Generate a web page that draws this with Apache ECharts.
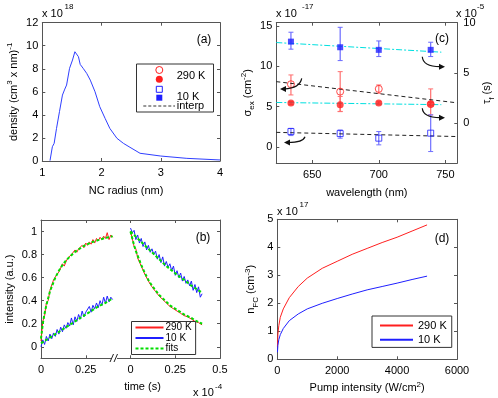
<!DOCTYPE html>
<html>
<head>
<meta charset="utf-8">
<script src="https://cdn.jsdelivr.net/npm/echarts@6/dist/echarts.min.js"></script>
<style>
html, body { margin: 0; padding: 0; background: #fff; }
#chart { width: 498px; height: 398px; }
</style>
</head>
<body>
<div id="chart"></div>
<script>
// ---------- (a) NC radius distribution ----------
const radius = [1.13, 1.17, 1.2, 1.24, 1.29, 1.34, 1.38, 1.41, 1.46, 1.51, 1.55, 1.58, 1.61, 1.64, 1.69, 1.75, 1.81, 1.89, 1.97, 2.06, 2.14, 2.26, 2.37, 2.48, 2.65, 3.0, 3.44, 4.0];
const density = [0.03, 1.24, 1.53, 2.83, 4.28, 5.72, 6.24, 6.59, 8.04, 8.76, 9.48, 9.42, 9.05, 8.38, 8.04, 7.6, 7.02, 6.01, 4.71, 3.7, 2.83, 1.97, 1.53, 1.19, 0.67, 0.43, 0.23, 0.09];

// ---------- (b) time traces (axis broken: right half relabelled from 0) ----------
const riseT = [0, 0.01, 0.02, 0.03, 0.04, 0.05, 0.06, 0.07, 0.08, 0.09, 0.10, 0.11, 0.12, 0.13, 0.14, 0.15, 0.16, 0.17, 0.18, 0.19, 0.20, 0.21, 0.22, 0.23, 0.24, 0.25, 0.26, 0.27, 0.28, 0.29, 0.30, 0.31, 0.32, 0.33, 0.34, 0.35, 0.36, 0.37, 0.38, 0.39, 0.40];
const decayT = [0.50, 0.51, 0.52, 0.53, 0.54, 0.55, 0.56, 0.57, 0.58, 0.59, 0.60, 0.61, 0.62, 0.63, 0.64, 0.65, 0.66, 0.67, 0.68, 0.69, 0.70, 0.71, 0.72, 0.73, 0.74, 0.75, 0.76, 0.77, 0.78, 0.79, 0.80, 0.81, 0.82, 0.83, 0.84, 0.85, 0.86, 0.87, 0.88, 0.89, 0.90];
const redRise = [0.05, 0.22, 0.27, 0.38, 0.40, 0.49, 0.50, 0.58, 0.57, 0.63, 0.65, 0.66, 0.72, 0.70, 0.74, 0.77, 0.76, 0.80, 0.79, 0.84, 0.82, 0.85, 0.84, 0.88, 0.86, 0.90, 0.88, 0.91, 0.89, 0.93, 0.90, 0.94, 0.92, 0.95, 0.93, 0.96, 0.94, 0.99, 0.93, 0.97, 0.95];
const blueRise = [0.0, 0.06, 0.02, 0.09, 0.05, 0.11, 0.07, 0.12, 0.09, 0.15, 0.11, 0.17, 0.13, 0.19, 0.16, 0.21, 0.18, 0.25, 0.19, 0.26, 0.22, 0.28, 0.24, 0.31, 0.26, 0.30, 0.29, 0.35, 0.30, 0.36, 0.33, 0.38, 0.34, 0.40, 0.36, 0.43, 0.38, 0.44, 0.39, 0.43, 0.41];
const redDecay = [1.0, 0.94, 0.87, 0.85, 0.77, 0.76, 0.70, 0.69, 0.63, 0.62, 0.57, 0.57, 0.52, 0.52, 0.48, 0.48, 0.44, 0.45, 0.41, 0.41, 0.38, 0.39, 0.35, 0.36, 0.33, 0.34, 0.31, 0.32, 0.29, 0.30, 0.27, 0.28, 0.26, 0.26, 0.24, 0.24, 0.22, 0.23, 0.21, 0.21, 0.19];
const blueDecay = [1.03, 0.99, 1.01, 0.93, 0.97, 0.90, 0.94, 0.87, 0.91, 0.84, 0.88, 0.82, 0.85, 0.80, 0.83, 0.76, 0.80, 0.73, 0.78, 0.70, 0.74, 0.69, 0.72, 0.66, 0.70, 0.62, 0.66, 0.60, 0.64, 0.57, 0.61, 0.55, 0.58, 0.53, 0.57, 0.49, 0.54, 0.47, 0.52, 0.43, 0.46];
const fitRiseT = [0, 0.01, 0.02, 0.03, 0.04, 0.05, 0.06, 0.07, 0.08, 0.10, 0.12, 0.14, 0.16, 0.18, 0.20, 0.22, 0.24, 0.26, 0.28, 0.30, 0.32, 0.34, 0.36, 0.38, 0.40];
const redRiseFit = [0.07, 0.2, 0.29, 0.36, 0.42, 0.48, 0.52, 0.56, 0.6, 0.66, 0.71, 0.75, 0.78, 0.81, 0.835, 0.855, 0.875, 0.89, 0.905, 0.915, 0.925, 0.935, 0.945, 0.95, 0.96];
const blueRiseFit = [0.03, 0.04, 0.05, 0.06, 0.07, 0.08, 0.09, 0.10, 0.11, 0.13, 0.15, 0.17, 0.19, 0.21, 0.23, 0.25, 0.27, 0.29, 0.31, 0.33, 0.35, 0.365, 0.38, 0.40, 0.42];
const fitDecayT = [0.50, 0.51, 0.52, 0.53, 0.54, 0.56, 0.58, 0.60, 0.62, 0.64, 0.66, 0.68, 0.70, 0.72, 0.74, 0.76, 0.78, 0.80, 0.82, 0.84, 0.86, 0.88, 0.90];
const redDecayFit = [1.0, 0.94, 0.88, 0.83, 0.79, 0.71, 0.64, 0.58, 0.53, 0.49, 0.45, 0.42, 0.39, 0.36, 0.34, 0.32, 0.30, 0.28, 0.265, 0.25, 0.23, 0.215, 0.20];
const blueDecayFit = [1.0, 0.985, 0.97, 0.955, 0.94, 0.91, 0.88, 0.85, 0.82, 0.79, 0.76, 0.73, 0.70, 0.675, 0.65, 0.625, 0.60, 0.58, 0.555, 0.53, 0.51, 0.49, 0.47];
const timeTicks = [0, 0.25, 0.5, 0.75, 1];
const timeTickLabels = ['0', '0.25', '0', '0.25', '0.5'];

// ---------- (c) cross section (left) and lifetime (right) vs wavelength ----------
const wavelength = [634, 671, 700, 739];
const sigma290 = [7.77, 6.85, 7.19, 5.3];
const sigma290Lo = [6.44, 4.37, 6.65, 3.97];
const sigma290Hi = [8.92, 9.33, 7.68, 7.19];
const sigma10 = [1.9, 1.65, 1.08, 1.7];
const sigma10Lo = [1.4, 1.08, 0.25, -0.58];
const sigma10Hi = [2.3, 2.1, 1.9, 3.97];
const tau290 = [1.99, 1.82, 1.99, 1.89];
const tau290Lo = [1.85, 1.15, 1.87, 1.75];
const tau290Hi = [2.13, 2.64, 2.1, 2.03];
const tau10 = [8.11, 7.55, 7.29, 7.29];
const tau10Lo = [7.36, 6.22, 6.62, 6.62];
const tau10Hi = [9.05, 9.54, 8.18, 8.05];
const sigmaFitWl = [623, 759];
const sigma290Fit = [8.09, 5.46];
const sigma10Fit = [1.8, 1.28];
const tauFitWl = [623, 747];
const tau10Fit = [8.02, 7.06];
const tau290Fit = [2.04, 1.82];

// ---------- (d) free carrier density vs pump ----------
const pump = [5, 20, 50, 100, 200, 400, 700, 1000, 1500, 2000, 2500, 3000, 3500, 4000, 4500, 5000];
const nfc290 = [0.45, 0.9, 1.2, 1.5, 1.8, 2.2, 2.6, 2.9, 3.25, 3.5, 3.75, 3.96, 4.17, 4.36, 4.58, 4.8];
const nfc10 = [0.25, 0.5, 0.7, 0.88, 1.1, 1.38, 1.62, 1.8, 2.0, 2.17, 2.33, 2.48, 2.6, 2.72, 2.85, 2.97];

const FONT = 'Liberation Sans, Arial, sans-serif';
const AXIS_COLOR = '#555';
const RED = '#ff1f1f';
const BLUE = '#1f1fff';
const GREEN = '#00dd00';
const CYAN = '#00e0e0';

// 上下标样式
const rich = {
    sup: { fontSize: 8, lineHeight: 9, verticalAlign: 'top', fontFamily: FONT, color: '#000' },
    sub: { fontSize: 8, lineHeight: 9, verticalAlign: 'bottom', fontFamily: FONT, color: '#000' },
};

function pairs(xs, ys) {
    return xs.map((x, i) => [x, ys[i]]);
}

// MATLAB-like box axis: ticks inside, no grid lines
function axis(gridIndex, position, min, max, o) {
    o = o || {};
    const a = {
        type: 'value',
        gridIndex: gridIndex,
        position: position,
        min: min,
        max: max,
        axisLine: { show: true, onZero: false, lineStyle: { color: AXIS_COLOR, width: 1 } },
        axisTick: { show: true, inside: true, length: 3, lineStyle: { color: AXIS_COLOR } },
        axisLabel: {
            show: o.labels !== false,
            color: '#000',
            fontSize: 11,
            fontFamily: FONT,
            margin: o.margin || 5,
            formatter: o.formatter || ((v) => String(v)),
        },
        splitLine: { show: false },
    };
    if (o.interval) a.interval = o.interval;
    if (o.ticks) {
        a.axisTick.customValues = o.ticks;
        a.axisLabel.customValues = o.ticks;
    }
    if (o.name) {
        a.name = o.name;
        a.nameLocation = 'middle';
        a.nameGap = o.nameGap;
        a.nameTextStyle = {
            fontSize: 11, fontFamily: FONT, color: '#000', lineHeight: 16, rich: rich,
            padding: o.namePad || 0,
        };
    }
    return a;
}

function lineSeries(name, xi, yi, data, color, width, type) {
    return {
        name: name,
        type: 'line',
        xAxisIndex: xi,
        yAxisIndex: yi,
        data: data,
        symbol: 'none',
        lineStyle: { color: color, width: width, type: type || 'solid' },
        itemStyle: { color: color },
    };
}

function scatterSeries(xi, yi, data, symbol, size, color, hollow) {
    return {
        type: 'scatter',
        xAxisIndex: xi,
        yAxisIndex: yi,
        data: data,
        symbol: symbol,
        symbolSize: size,
        itemStyle: hollow
            ? { color: 'rgba(0,0,0,0)', borderColor: color, borderWidth: 1 }
            : { color: color },
        z: 4,
    };
}

// 误差线(自定义系列)
function errorSeries(xi, yi, xs, lo, hi, color) {
    return {
        type: 'custom',
        xAxisIndex: xi,
        yAxisIndex: yi,
        data: xs.map((x, i) => [x, lo[i], hi[i]]),
        encode: { x: 0, y: [1, 2] },
        silent: true,
        z: 3,
        renderItem: function (params, api) {
            const a = api.coord([api.value(0), api.value(1)]);
            const b = api.coord([api.value(0), api.value(2)]);
            const w = 2.5;
            return {
                type: 'group',
                children: [
                    { type: 'line', shape: { x1: a[0], y1: a[1], x2: b[0], y2: b[1] }, style: { stroke: color, lineWidth: 1.2 } },
                    { type: 'line', shape: { x1: a[0] - w, y1: a[1], x2: a[0] + w, y2: a[1] }, style: { stroke: color, lineWidth: 1 } },
                    { type: 'line', shape: { x1: b[0] - w, y1: b[1], x2: b[0] + w, y2: b[1] }, style: { stroke: color, lineWidth: 1 } },
                ],
            };
        },
    };
}

function txt(text, x, y, size, align) {
    return {
        type: 'text',
        z: 100,
        style: { text: text, x: x, y: y, fill: '#000', font: size + 'px ' + FONT, align: align || 'left', verticalAlign: 'middle' },
    };
}

function arrow(x1, y1, cx, cy, x2, y2, head) {
    return [
        { type: 'bezierCurve', z: 100, shape: { x1: x1, y1: y1, cpx1: cx, cpy1: cy, x2: x2, y2: y2 }, style: { stroke: '#111', lineWidth: 1.2, fill: null } },
        { type: 'polygon', z: 100, shape: { points: head }, style: { fill: '#111' } },
    ];
}

const chart = echarts.init(document.getElementById('chart'));

const option = {
    animation: false,
    backgroundColor: '#fff',
    grid: [
        { left: 42.3, top: 22.7, width: 177.7, height: 138.3, outerBoundsMode: 'none' },
        { left: 41, top: 220, width: 179, height: 138.3, outerBoundsMode: 'none' },
        { left: 276.3, top: 22.7, width: 181, height: 140.3, outerBoundsMode: 'none' },
        { left: 277.3, top: 219.3, width: 179.7, height: 140, outerBoundsMode: 'none' },
    ],
    xAxis: [
        axis(0, 'bottom', 1, 4, { interval: 1, margin: 6, name: 'NC radius (nm)', nameGap: 22, namePad: [0, 10, 0, 0] }),
        axis(0, 'top', 1, 4, { interval: 1, labels: false }),
        axis(1, 'bottom', 0, 1, {
            ticks: timeTicks, margin: 6, name: 'time (s)', nameGap: 21, namePad: [0, 0, 0, 24],
            formatter: (v) => timeTickLabels[timeTicks.indexOf(v)] || '',
        }),
        axis(1, 'top', 0, 1, { ticks: timeTicks, labels: false }),
        axis(2, 'bottom', 623, 759, { ticks: [650, 700, 750], margin: 6, name: 'wavelength (nm)', nameGap: 22 }),
        axis(2, 'top', 623, 759, { ticks: [650, 700, 750], labels: false }),
        axis(3, 'bottom', 0, 6000, { interval: 2000, margin: 6, name: 'Pump intensity (W/cm{sup|2})', nameGap: 21 }),
        axis(3, 'top', 0, 6000, { interval: 2000, labels: false }),
    ],
    yAxis: [
        axis(0, 'left', 0, 12, { interval: 2, margin: 4, name: 'density (cm{sup|3} x nm){sup|-1}', nameGap: 17 }),
        axis(0, 'right', 0, 12, { interval: 2, labels: false }),
        axis(1, 'left', -0.1, 1.1, { ticks: [0, 0.2, 0.4, 0.6, 0.8, 1], margin: 4, name: 'intensity (a.u.)', nameGap: 19 }),
        axis(1, 'right', -0.1, 1.1, { ticks: [0, 0.2, 0.4, 0.6, 0.8, 1], labels: false }),
        axis(2, 'left', -2, 15.4, { ticks: [0, 5, 10, 15], margin: 4, name: 'σ{sub|ex} (cm{sup|-2})', nameGap: 16 }),
        axis(2, 'right', -4, 10, { ticks: [0, 5, 10], margin: 6, name: 'τ{sub|f} (s)', nameGap: 15 }),
        axis(3, 'left', 0, 5, { interval: 1, margin: 4, name: 'n{sub|FC} (cm{sup|-3})', nameGap: 18 }),
        axis(3, 'right', 0, 5, { interval: 1, labels: false }),
    ],
    legend: [
        {
            data: ['290 K', '10 K', 'fits'],
            left: 131.5, top: 321.5, orient: 'vertical',
            itemWidth: 28, itemHeight: 10, itemGap: 0.5,
            padding: [1, 4, 1, 3],
            borderColor: '#333', borderWidth: 1, backgroundColor: '#fff',
            selectedMode: false,
            itemStyle: { opacity: 0 },
            textStyle: { fontSize: 10, fontFamily: FONT, color: '#000', padding: [0, 0, 0, -3] },
        },
        {
            data: ['290 K', '10 K'],
            left: 372, top: 316, orient: 'vertical',
            itemWidth: 33, itemHeight: 14, itemGap: 3,
            padding: [4, 5, 2, 7],
            borderColor: '#333', borderWidth: 1, backgroundColor: '#fff',
            selectedMode: false,
            itemStyle: { opacity: 0 },
            textStyle: { fontSize: 11, fontFamily: FONT, color: '#000' },
        },
    ],
    series: [
        // (b) 实测曲线与拟合
        lineSeries('290 K', 2, 2, pairs(riseT, redRise), RED, 1),
        lineSeries('290 K', 2, 2, pairs(decayT, redDecay), RED, 1),
        lineSeries('10 K', 2, 2, pairs(riseT, blueRise), BLUE, 1),
        lineSeries('10 K', 2, 2, pairs(decayT, blueDecay), BLUE, 1),
        lineSeries('fits', 2, 2, pairs(fitRiseT, redRiseFit), GREEN, 2, [3, 2]),
        lineSeries('fits', 2, 2, pairs(fitRiseT, blueRiseFit), GREEN, 2, [3, 2]),
        lineSeries('fits', 2, 2, pairs(fitDecayT, redDecayFit), GREEN, 2, [3, 2]),
        lineSeries('fits', 2, 2, pairs(fitDecayT, blueDecayFit), GREEN, 2, [3, 2]),

        // (a) 粒径分布
        lineSeries('density', 0, 0, pairs(radius, density), '#2f3fff', 1),

        // (c) 拟合虚线
        lineSeries('sigma fit 290', 4, 4, pairs(sigmaFitWl, sigma290Fit), '#222', 1, [4, 3]),
        lineSeries('sigma fit 10', 4, 4, pairs(sigmaFitWl, sigma10Fit), '#222', 1, [4, 3]),
        lineSeries('tau fit 10', 4, 5, pairs(tauFitWl, tau10Fit), CYAN, 1, [6, 2, 2, 2]),
        lineSeries('tau fit 290', 4, 5, pairs(tauFitWl, tau290Fit), CYAN, 1, [6, 2, 2, 2]),
        // (c) 误差线
        errorSeries(4, 4, wavelength, sigma290Lo, sigma290Hi, '#ff7070'),
        errorSeries(4, 4, wavelength, sigma10Lo, sigma10Hi, '#7070ff'),
        errorSeries(4, 5, wavelength, tau290Lo, tau290Hi, '#ff7070'),
        errorSeries(4, 5, wavelength, tau10Lo, tau10Hi, '#6a6aff'),
        // (c) 数据点
        scatterSeries(4, 4, pairs(wavelength, sigma290), 'circle', 7, RED, true),
        scatterSeries(4, 4, pairs(wavelength, sigma10), 'rect', 6, BLUE, true),
        scatterSeries(4, 5, pairs(wavelength, tau290), 'circle', 7, RED, false),
        scatterSeries(4, 5, pairs(wavelength, tau10), 'rect', 6, BLUE, false),

        // (d)
        lineSeries('290 K', 6, 6, pairs(pump, nfc290), RED, 1),
        lineSeries('10 K', 6, 6, pairs(pump, nfc10), BLUE, 1),
    ],
    graphic: [
        // exponents
        txt('x 10', 42, 14, 11), txt('18', 64.5, 6.5, 8),
        txt('x 10', 276, 14, 11), txt('-17', 302, 6.5, 8),
        txt('x 10', 456, 14, 11), txt('-5', 477, 6.5, 8),
        txt('x 10', 277, 211.7, 11), txt('17', 299.5, 205, 8),
        txt('x 10', 193, 393, 11), txt('-4', 215, 387, 8),
        // panel labels
        txt('(a)', 204, 40, 12, 'center'),
        txt('(b)', 203, 238, 12, 'center'),
        txt('(c)', 442, 38.5, 12, 'center'),
        txt('(d)', 442, 238.5, 12, 'center'),
        // (b) axis break
        { type: 'rect', z: 99, shape: { x: 111, y: 355, width: 6, height: 6 }, style: { fill: '#fff' } },
        { type: 'line', z: 100, shape: { x1: 110, y1: 362, x2: 113.5, y2: 354 }, style: { stroke: '#222', lineWidth: 1 } },
        { type: 'line', z: 100, shape: { x1: 114, y1: 362, x2: 117.5, y2: 354 }, style: { stroke: '#222', lineWidth: 1 } },
        // (a) legend box for panel (c) symbols
        { type: 'rect', z: 100, shape: { x: 136.5, y: 64, width: 77, height: 48 }, style: { fill: '#fff', stroke: '#333', lineWidth: 1 } },
        { type: 'circle', z: 101, shape: { cx: 159.3, cy: 70, r: 3.5 }, style: { fill: null, stroke: RED, lineWidth: 1 } },
        { type: 'circle', z: 101, shape: { cx: 159.3, cy: 79.3, r: 3.5 }, style: { fill: RED } },
        { type: 'rect', z: 101, shape: { x: 156.3, y: 86.3, width: 6, height: 6 }, style: { fill: null, stroke: BLUE, lineWidth: 1 } },
        { type: 'rect', z: 101, shape: { x: 156.3, y: 94.7, width: 6, height: 6 }, style: { fill: BLUE } },
        { type: 'line', z: 101, shape: { x1: 143.3, y1: 106, x2: 175, y2: 106 }, style: { stroke: '#333', lineWidth: 1, lineDash: [3, 2] } },
        Object.assign(txt('290 K', 176.7, 76, 11), { z: 101 }),
        Object.assign(txt('10 K', 176.7, 96.7, 11), { z: 101 }),
        Object.assign(txt('interp', 176.7, 106, 11), { z: 101 }),
    ]
        .concat(arrow(301.7, 78.3, 300, 88, 284, 89, [[280, 89], [286, 86], [286, 92]]))
        .concat(arrow(305, 136.7, 303, 142.5, 288, 142.5, [[284, 142.5], [290, 139.5], [290, 145.5]]))
        .concat(arrow(422.3, 56.7, 423, 66.5, 440, 66.7, [[445, 66.7], [439, 63.7], [439, 69.7]]))
        .concat(arrow(422.3, 108.3, 423, 117.5, 440, 117.7, [[445, 117.7], [439, 114.7], [439, 120.7]])),
};

chart.setOption(option);
</script>
</body>
</html>
